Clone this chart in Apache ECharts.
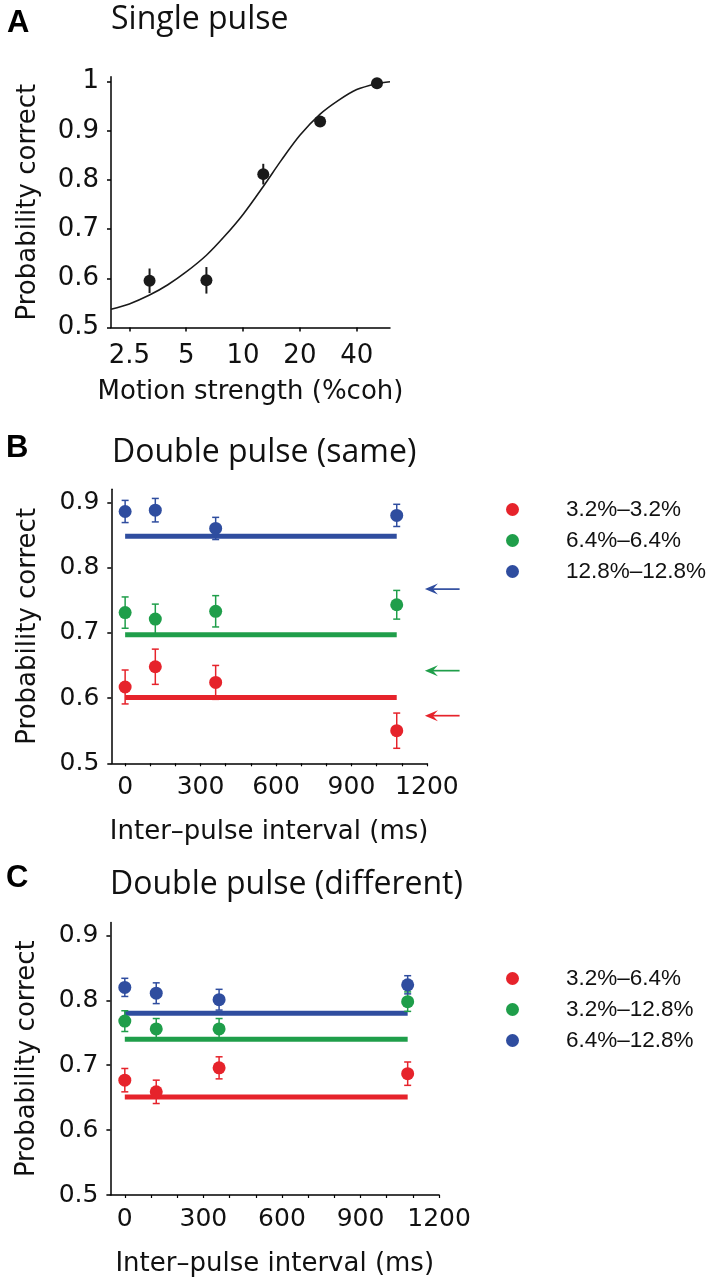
<!DOCTYPE html>
<html><head><meta charset="utf-8">
<script src="https://cdn.jsdelivr.net/npm/echarts@6/dist/echarts.min.js"></script>
<style>html,body{margin:0;padding:0;background:#fff}#c{width:712px;height:1280px}</style>
</head><body><div id="c"></div>
<script>
// ---------- Panel A: single pulse ----------
const coherence = [3.2, 6.4, 12.8, 25.6, 51.2];
const singleCorrect = [0.595, 0.596, 0.812, 0.919, 0.997];
const singleErr = [0.025, 0.027, 0.021, 0.010, 0.004];
const fitCoherence = [2, 2.5, 3.2, 4, 5, 6.4, 8, 10, 12.8, 16, 20, 25.6, 32, 40, 51, 60];
const fitCorrect = [0.537, 0.548, 0.566, 0.587, 0.613, 0.647, 0.686, 0.730, 0.787, 0.841, 0.891, 0.934, 0.962, 0.984, 0.996, 1.0];
const xTicksA = [2.5, 5, 10, 20, 40];
const yTicksA = [0.5, 0.6, 0.7, 0.8, 0.9, 1];

// ---------- Panels B & C: double pulse ----------
const intervals = [0, 120, 360, 1080];
const xTicksBC = [0, 300, 600, 900, 1200];
const xMinorBC = [0, 100, 200, 300, 400, 500, 600, 700, 800, 900, 1000, 1100, 1200];
const yTicksBC = [0.5, 0.6, 0.7, 0.8, 0.9];

const sameNames = ['3.2%–3.2%', '6.4%–6.4%', '12.8%–12.8%'];
const sameRed = [0.617, 0.648, 0.624, 0.550];
const sameRedErr = [0.026, 0.027, 0.026, 0.027];
const sameGreen = [0.731, 0.721, 0.733, 0.743];
const sameGreenErr = [0.024, 0.023, 0.024, 0.022];
const sameBlue = [0.886, 0.888, 0.860, 0.880];
const sameBlueErr = [0.017, 0.018, 0.017, 0.017];
const sameMeans = [0.601, 0.697, 0.848];
const samePredicted = [0.573, 0.642, 0.767];

const diffNames = ['3.2%–6.4%', '3.2%–12.8%', '6.4%–12.8%'];
const diffRed = [0.677, 0.659, 0.696, 0.687];
const diffRedErr = [0.018, 0.018, 0.017, 0.018];
const diffGreen = [0.768, 0.756, 0.756, 0.798];
const diffGreenErr = [0.016, 0.016, 0.016, 0.015];
const diffBlue = [0.820, 0.811, 0.801, 0.824];
const diffBlueErr = [0.014, 0.016, 0.016, 0.014];
const diffMeans = [0.651, 0.740, 0.780];

// ---------- styles ----------
const COLORS = ['#e6232b', '#1f9e4a', '#2f4d9f'];
const BLACK = '#1a1a1a';
const AX_FONT = 'DejaVu Sans';
const TITLE_FONT = 'Open Sans';
const LEG_FONT = 'Liberation Sans';

function plainNum(v) { return String(v); }

function errRender(cap, color, width) {
  return function (params, api) {
    const x = api.value(0), lo = api.value(1), hi = api.value(2);
    const p1 = api.coord([x, lo]), p2 = api.coord([x, hi]);
    const st = { stroke: color, lineWidth: width };
    const ch = [{ type: 'line', shape: { x1: p1[0], y1: p1[1], x2: p2[0], y2: p2[1] }, style: st }];
    if (cap) {
      ch.push({ type: 'line', shape: { x1: p1[0] - cap, y1: p1[1], x2: p1[0] + cap, y2: p1[1] }, style: st });
      ch.push({ type: 'line', shape: { x1: p2[0] - cap, y1: p2[1], x2: p2[0] + cap, y2: p2[1] }, style: st });
    }
    return { type: 'group', children: ch };
  };
}

function arrowRender(params, api) {
  const v = api.value(0), idx = api.value(1);
  const tail = api.coord([1330, v]);
  const tip = api.coord([1192, v]);
  const c = COLORS[idx];
  return {
    type: 'group',
    children: [
      { type: 'line', shape: { x1: tip[0] + 6, y1: tip[1], x2: tail[0], y2: tail[1] }, style: { stroke: c, lineWidth: 1.7 } },
      { type: 'polygon', shape: { points: [[tip[0], tip[1]], [tip[0] + 13, tip[1] - 5.5], [tip[0] + 8, tip[1]], [tip[0] + 13, tip[1] + 5.5]] }, style: { fill: c } }
    ]
  };
}

const axisLine = { show: true, onZero: false, lineStyle: { color: '#000', width: 1.5 } };
function yAxis(gi, min, max, ticks, labelSize) {
  return {
    type: 'value', gridIndex: gi, min: min, max: max,
    name: 'Probability correct', nameLocation: 'middle', nameGap: 70,
    nameTextStyle: { fontFamily: AX_FONT, fontSize: 26, color: '#111' },
    axisLine: axisLine,
    axisTick: { show: true, length: 4, inside: false, customValues: ticks, lineStyle: { color: '#000', width: 1.5 } },
    axisLabel: { customValues: ticks, margin: 12, fontFamily: AX_FONT, fontSize: labelSize, color: '#111', formatter: plainNum },
    splitLine: { show: false }
  };
}
function xAxisBC(gi) {
  return {
    type: 'value', gridIndex: gi, min: -55, max: 1200,
    name: 'Inter–pulse interval (ms)', nameLocation: 'middle', nameGap: 56,
    nameTextStyle: { fontFamily: AX_FONT, fontSize: 26, color: '#111' },
    axisLine: axisLine,
    axisTick: { show: true, length: 3, inside: false, customValues: xMinorBC, lineStyle: { color: '#000', width: 1.2 } },
    axisLabel: { customValues: xTicksBC, margin: 12, fontFamily: AX_FONT, fontSize: 25, color: '#111', formatter: plainNum },
    splitLine: { show: false }
  };
}

function panelSeries(gi, names, vals, errs, means, prefix) {
  const out = [];
  means.forEach(function (m, k) {
    out.push({
      name: prefix + 'mean' + k, type: 'line', xAxisIndex: gi, yAxisIndex: gi, z: 2,
      data: [[intervals[0], m], [intervals[intervals.length - 1], m]],
      symbol: 'none', lineStyle: { color: COLORS[k], width: 5 }, silent: true
    });
  });
  vals.forEach(function (arr, k) {
    out.push({
      name: prefix + 'err' + k, type: 'custom', xAxisIndex: gi, yAxisIndex: gi, z: 3,
      renderItem: errRender(3.5, COLORS[k], 1.5),
      encode: { x: 0, y: [1, 2] },
      data: intervals.map(function (x, i) { return [x, arr[i] - errs[k][i], arr[i] + errs[k][i]]; })
    });
    out.push({
      name: names[k], type: 'scatter', xAxisIndex: gi, yAxisIndex: gi, z: 4,
      symbol: 'circle', symbolSize: 13, itemStyle: { color: COLORS[k], opacity: 1 },
      data: intervals.map(function (x, i) { return [x, arr[i]]; })
    });
  });
  return out;
}

function legend(names, top) {
  return {
    orient: 'vertical', left: 506, top: top, padding: 0,
    itemWidth: 13, itemHeight: 13, itemGap: 8, icon: 'circle',
    selectedMode: false, data: names,
    formatter: '{g| }{n|{name}}',
    textStyle: {
      fontFamily: LEG_FONT, fontSize: 22, color: '#111',
      rich: { g: { width: 42, fontSize: 22 }, n: { fontFamily: LEG_FONT, fontSize: 22.5, color: '#111' } }
    }
  };
}

const titleStyle = { fontFamily: TITLE_FONT, fontSize: 32, fontWeight: 'normal', color: '#111' };
const labelStyle = { fontFamily: 'Liberation Sans', fontSize: 31, fontWeight: 'bold', color: '#000' };

const option = {
  backgroundColor: '#fff',
  animation: false,
  title: [
    { text: 'A', left: 7, top: 8, padding: 0, textStyle: labelStyle },
    { text: 'Single pulse', left: 111, top: 4, padding: 0, textStyle: titleStyle },
    { text: 'B', left: 6, top: 433, padding: 0, textStyle: labelStyle },
    { text: 'Double pulse (same)', left: 112, top: 437, padding: 0, textStyle: titleStyle },
    { text: 'C', left: 6, top: 863, padding: 0, textStyle: labelStyle },
    { text: 'Double pulse (different)', left: 110, top: 869, padding: 0, textStyle: titleStyle }
  ],
  legend: [legend(sameNames, 498), legend(diffNames, 967)],
  grid: [
    { left: 111, top: 76.8, width: 279, height: 250.7 },
    { left: 111.3, top: 489.3, width: 315.6, height: 274 },
    { left: 110.4, top: 922.5, width: 328.7, height: 272.5 }
  ],
  xAxis: [
    {
      type: 'log', logBase: 2, gridIndex: 0, min: 2, max: 60,
      name: 'Motion strength (%coh)', nameLocation: 'middle', nameGap: 52,
      nameTextStyle: { fontFamily: AX_FONT, fontSize: 26, color: '#111' },
      axisLine: axisLine,
      axisTick: { show: true, length: 4, inside: false, customValues: xTicksA, lineStyle: { color: '#000', width: 1.5 } },
      axisLabel: { customValues: xTicksA, margin: 16, fontFamily: AX_FONT, fontSize: 26, color: '#111', formatter: plainNum },
      minorTick: { show: false }, splitLine: { show: false }
    },
    xAxisBC(1),
    xAxisBC(2)
  ],
  yAxis: [
    yAxis(0, 0.5, 1.01, yTicksA, 26),
    yAxis(1, 0.5, 0.92, yTicksBC, 25),
    yAxis(2, 0.5, 0.92, yTicksBC, 25)
  ],
  series: [
    {
      name: 'fit', type: 'line', xAxisIndex: 0, yAxisIndex: 0, z: 2, smooth: 0.3,
      symbol: 'none', lineStyle: { color: BLACK, width: 1.6 },
      data: fitCoherence.map(function (x, i) { return [x, fitCorrect[i]]; })
    },
    {
      name: 'errA', type: 'custom', xAxisIndex: 0, yAxisIndex: 0, z: 3,
      renderItem: errRender(0, BLACK, 2), encode: { x: 0, y: [1, 2] },
      data: coherence.map(function (x, i) { return [x, singleCorrect[i] - singleErr[i], singleCorrect[i] + singleErr[i]]; })
    },
    {
      name: 'single', type: 'scatter', xAxisIndex: 0, yAxisIndex: 0, z: 4,
      symbolSize: 12, itemStyle: { color: BLACK, opacity: 1 },
      data: coherence.map(function (x, i) { return [x, singleCorrect[i]]; })
    }
  ]
    .concat(panelSeries(1, sameNames, [sameRed, sameGreen, sameBlue], [sameRedErr, sameGreenErr, sameBlueErr], sameMeans, 'B'))
    .concat([{
      name: 'predicted', type: 'custom', xAxisIndex: 1, yAxisIndex: 1, clip: false, z: 3,
      renderItem: arrowRender, encode: { x: 1, y: 0 },
      data: samePredicted.map(function (v, k) { return [v, k]; })
    }])
    .concat(panelSeries(2, diffNames, [diffRed, diffGreen, diffBlue], [diffRedErr, diffGreenErr, diffBlueErr], diffMeans, 'C'))
};

const chart = echarts.init(document.getElementById('c'), null, { renderer: 'canvas' });
chart.setOption(option);
</script>
</body></html>
